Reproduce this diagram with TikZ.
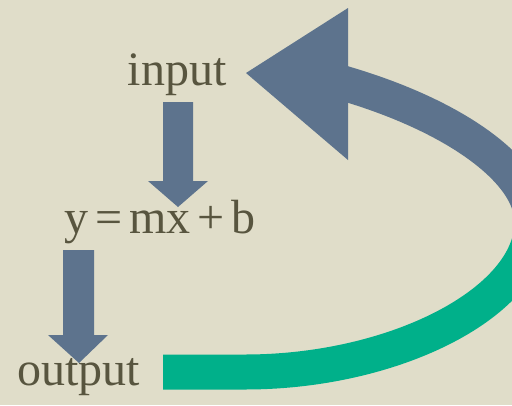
\documentclass[tikz,border=0pt]{standalone}
\usepackage{fontspec}
\setmainfont{Liberation Serif}
\definecolor{bgcol}{HTML}{E0DDC9}
\definecolor{inkcol}{HTML}{58553F}
\definecolor{slatecol}{HTML}{5D738D}
\definecolor{loopgreen}{HTML}{00B08A}
\newcommand{\eqgap}{\hspace{7pt}}
\begin{document}
\begin{tikzpicture}[x=1pt,y=-1pt,
  lbl/.style={text=inkcol, font=\fontsize{48}{50}\selectfont, anchor=base, inner sep=0pt},
  blockarrow/.style={fill=slatecol},
  band/.style={line width=35pt, line cap=butt}]
\useasboundingbox (0,0) rectangle (512,405);
\clip (0,0) rectangle (512,405);
\fill[bgcol] (0,0) rectangle (512,405);
% labels
\node[lbl] (in) at (177,85.7) {input};
\node[lbl] (eq) at (160,233) {y\eqgap=\eqgap mx\eqgap+\eqgap b};
\node[lbl] (out) at (78.5,385) {output};
% down arrows
\fill[blockarrow] (163,102) -- (193,102) -- (193,181) -- (208,181) -- (178,207) -- (148,181) -- (163,181) -- cycle;
\fill[blockarrow] (63,250) -- (94,250) -- (94,335) -- (108,335) -- (79,363) -- (48,335) -- (63,335) -- cycle;
% loop arrow
\coordinate (gs) at (163,372);
\coordinate (gb) at (245,372);
\coordinate (rm) at (532,222);
\coordinate (hb) at (348,84.5);
\draw[band, loopgreen] (gs) -- (gb) .. controls (395,372) and (532,302) .. (rm);
\draw[band, slatecol] (rm) .. controls (532,172) and (458,117.5) .. (hb) -- (330,79);
\fill[blockarrow] (246,73) -- (348,8) -- (348,160) -- cycle;
\end{tikzpicture}
\end{document}
